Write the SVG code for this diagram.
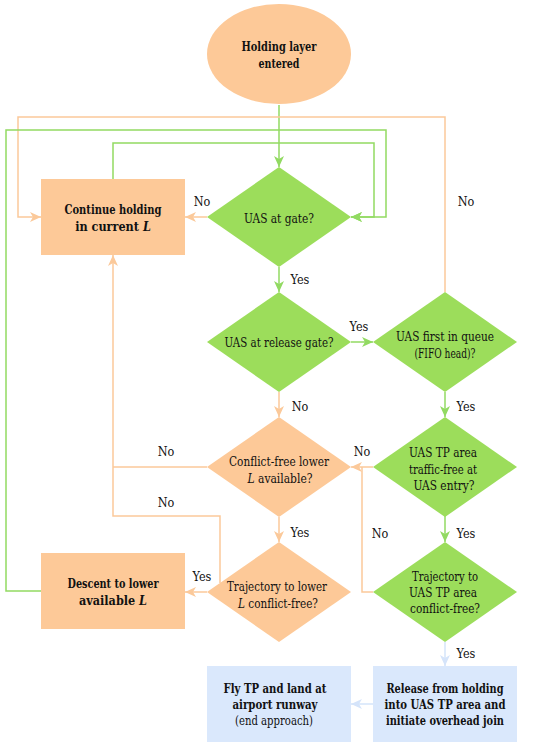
<svg xmlns="http://www.w3.org/2000/svg" width="550" height="747" viewBox="0 0 550 747">
<style>
text{font-family:'DejaVu Serif Condensed','DejaVu Serif',serif;font-stretch:condensed;font-size:12.5px;fill:#111;text-anchor:middle;dominant-baseline:central}
.b{font-weight:bold}
.o{fill:#FDC998}
.g{fill:#9CDD5B}
.bl{fill:#DAE8FC}
.lo{fill:none;stroke:#FBC99A;stroke-width:1.5}
.lg{fill:none;stroke:#92DA62;stroke-width:1.5}
.lb{fill:none;stroke:#D5E4FA;stroke-width:1.5}
</style>
<defs>
<marker id="aO" markerUnits="userSpaceOnUse" markerWidth="12" markerHeight="10" refX="11" refY="5" orient="auto"><path d="M0,0 L11,5 L0,10 L3,5 Z" fill="#FBC99A"/></marker>
<marker id="aG" markerUnits="userSpaceOnUse" markerWidth="12" markerHeight="10" refX="11" refY="5" orient="auto"><path d="M0,0 L11,5 L0,10 L3,5 Z" fill="#92DA62"/></marker>
<marker id="aB" markerUnits="userSpaceOnUse" markerWidth="12" markerHeight="10" refX="11" refY="5" orient="auto"><path d="M0,0 L11,5 L0,10 L3,5 Z" fill="#D5E4FA"/></marker>
</defs>
<g id="connectors">
<path class="lg" d="M279,105 V167" marker-end="url(#aG)"/>
<path class="lo" d="M207,217 H185" marker-end="url(#aO)"/>
<path class="lo" d="M445,292 V117 H18 V217 H41" marker-end="url(#aO)"/>
<path class="lg" d="M113,179 V143 H374 V217 H351" marker-end="url(#aG)"/>
<path class="lg" d="M41,591 H6 V130 H386 V217 H351" marker-end="url(#aG)"/>
<path class="lg" d="M279,267 V292" marker-end="url(#aG)"/>
<path class="lg" d="M351,342 H373" marker-end="url(#aG)"/>
<path class="lo" d="M279,392 V417" marker-end="url(#aO)"/>
<path class="lg" d="M445,392 V417" marker-end="url(#aG)"/>
<path class="lo" d="M207,467 H113"/>
<path class="lo" d="M373,467 H351" marker-end="url(#aO)"/>
<path class="lo" d="M373,592 H362 V467"/>
<path class="lo" d="M279,517 V542" marker-end="url(#aO)"/>
<path class="lo" d="M220,583 V516 H113 V255" marker-end="url(#aO)"/>
<path class="lo" d="M207,592 H185" marker-end="url(#aO)"/>
<path class="lg" d="M445,516 V542" marker-end="url(#aG)"/>
<path class="lb" d="M445,642 V666" marker-end="url(#aB)"/>
<path class="lb" d="M373,704 H351" marker-end="url(#aB)"/>
</g>
<g id="labels">
<text x="202" y="201">No</text>
<text x="466" y="201">No</text>
<text x="300" y="279">Yes</text>
<text x="359" y="326">Yes</text>
<text x="300" y="406">No</text>
<text x="466" y="406">Yes</text>
<text x="166" y="451">No</text>
<text x="362" y="451">No</text>
<text x="166" y="502">No</text>
<text x="300" y="532">Yes</text>
<text x="380" y="533">No</text>
<text x="466" y="533">Yes</text>
<text x="202" y="576">Yes</text>
<text x="466" y="653">Yes</text>
</g>
<g id="start">
<ellipse class="o" cx="279" cy="54" rx="72" ry="50"/>
<text class="b" x="279" y="46" textLength="75" lengthAdjust="spacingAndGlyphs">Holding layer</text>
<text class="b" x="279" y="63" textLength="41" lengthAdjust="spacingAndGlyphs">entered</text>
</g>
<g id="gate">
<path class="g" d="M279,167 L351,217 L279,267 L207,217 Z"/>
<text x="279" y="218" textLength="70" lengthAdjust="spacingAndGlyphs">UAS at gate?</text>
</g>
<g id="continue">
<rect class="o" x="41" y="179" width="144" height="76"/>
<text class="b" x="113" y="209" textLength="97" lengthAdjust="spacingAndGlyphs">Continue holding</text>
<text class="b" x="113" y="226" font-size="11.5">in current <tspan font-style="italic">L</tspan></text>
</g>
<g id="release-gate">
<path class="g" d="M279,292 L351,342 L279,392 L207,342 Z"/>
<text x="279" y="342" textLength="109" lengthAdjust="spacingAndGlyphs">UAS at release gate?</text>
</g>
<g id="fifo">
<path class="g" d="M445,292 L517,342 L445,392 L373,342 Z"/>
<text x="445" y="336" textLength="98" lengthAdjust="spacingAndGlyphs">UAS first in queue</text>
<text x="445" y="353" textLength="61" lengthAdjust="spacingAndGlyphs">(FIFO head)?</text>
</g>
<g id="conflict-free">
<path class="o" d="M279,417 L351,467 L279,517 L207,467 Z"/>
<text x="279" y="461" textLength="100" lengthAdjust="spacingAndGlyphs">Conflict-free lower</text>
<text x="280" y="478" textLength="65" lengthAdjust="spacingAndGlyphs"><tspan font-style="italic">L</tspan> available?</text>
</g>
<g id="traffic-free">
<path class="g" d="M445,417 L517,467 L445,517 L373,467 Z"/>
<text x="443" y="452" textLength="68" lengthAdjust="spacingAndGlyphs">UAS TP area</text>
<text x="443" y="469" textLength="68" lengthAdjust="spacingAndGlyphs">traffic-free at</text>
<text x="444" y="485" textLength="61" lengthAdjust="spacingAndGlyphs">UAS entry?</text>
</g>
<g id="traj-lower">
<path class="o" d="M279,542 L351,592 L279,642 L207,592 Z"/>
<text x="277" y="586" textLength="100" lengthAdjust="spacingAndGlyphs">Trajectory to lower</text>
<text x="278" y="603" textLength="80" lengthAdjust="spacingAndGlyphs"><tspan font-style="italic">L</tspan> conflict-free?</text>
</g>
<g id="descent">
<rect class="o" x="41" y="553" width="144" height="76"/>
<text class="b" x="113" y="583" textLength="91" lengthAdjust="spacingAndGlyphs">Descent to lower</text>
<text class="b" x="113" y="600" font-size="11.5">available <tspan font-style="italic">L</tspan></text>
</g>
<g id="traj-tp">
<path class="g" d="M445,542 L517,592 L445,642 L373,592 Z"/>
<text x="445" y="576" textLength="66" lengthAdjust="spacingAndGlyphs">Trajectory to</text>
<text x="443" y="592" textLength="68" lengthAdjust="spacingAndGlyphs">UAS TP area</text>
<text x="445" y="608" textLength="70" lengthAdjust="spacingAndGlyphs">conflict-free?</text>
</g>
<g id="release">
<rect class="bl" x="373" y="666" width="144" height="76"/>
<text class="b" x="445" y="688" textLength="117" lengthAdjust="spacingAndGlyphs">Release from holding</text>
<text class="b" x="445" y="704" textLength="121" lengthAdjust="spacingAndGlyphs">into UAS TP area and</text>
<text class="b" x="445" y="720" textLength="118" lengthAdjust="spacingAndGlyphs">initiate overhead join</text>
</g>
<g id="fly">
<rect class="bl" x="207" y="666" width="144" height="76"/>
<text class="b" x="275" y="688" textLength="103" lengthAdjust="spacingAndGlyphs">Fly TP and land at</text>
<text class="b" x="275" y="704" textLength="85" lengthAdjust="spacingAndGlyphs">airport runway</text>
<text x="274" y="720" textLength="78" lengthAdjust="spacingAndGlyphs">(end approach)</text>
</g>
</svg>
